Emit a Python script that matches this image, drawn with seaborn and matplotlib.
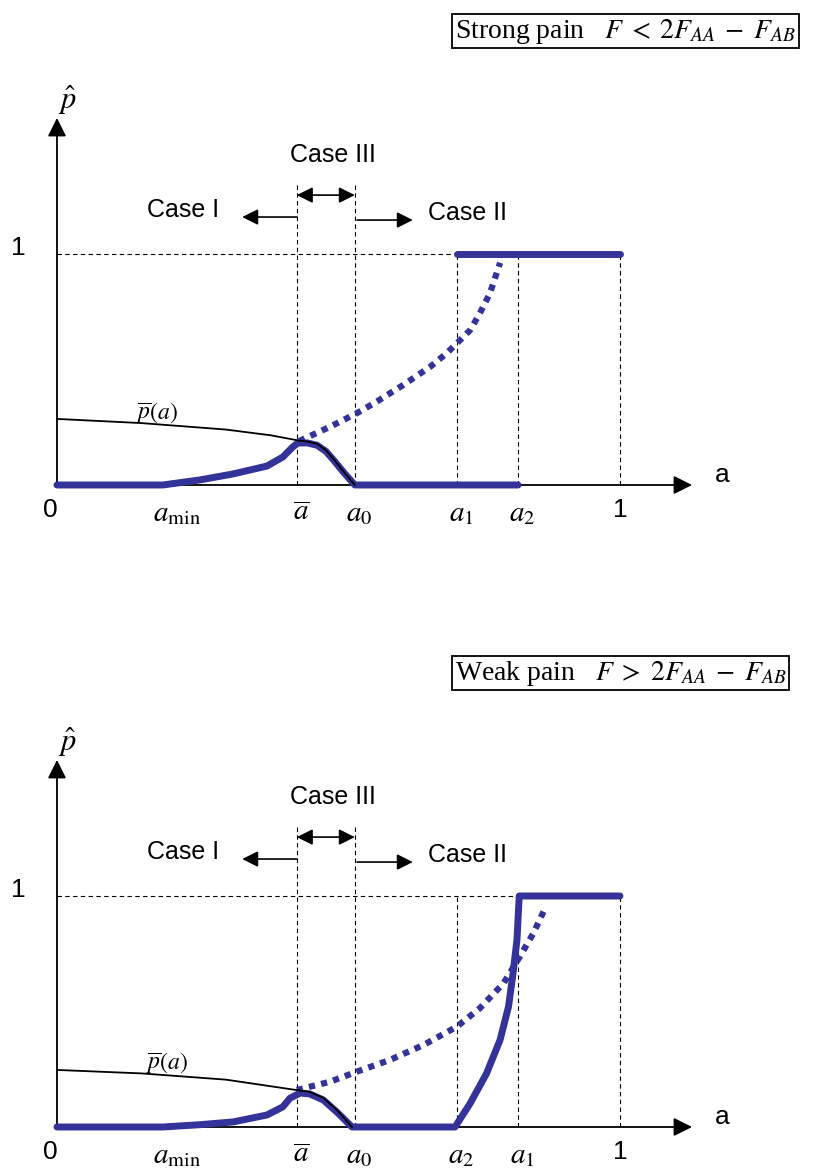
"""
plot.py
Schematic of p-hat against a for the strong pain and weak pain cases.
Writes out.png (829x1174).
"""

import matplotlib.pyplot as plt
import seaborn as sns

# -------------------------------------------------------
# Data (a in [0, 1])
# -------------------------------------------------------
A_MIN = 0.188
A_BAR = 0.426
A_0 = 0.529
A_LO = 0.710   # a1 in strong pain, a2 in weak pain
A_HI = 0.819   # a2 in strong pain, a1 in weak pain

# strong pain: thick equilibrium curve (low branch) and the upper branch
strong_low_x = [0, 0.188, 0.254, 0.313, 0.373, 0.401, 0.419, 0.428, 0.445,
                0.462, 0.478, 0.494, 0.510, 0.529, 0.819]
strong_low_y = [0, 0, 0.022, 0.048, 0.082, 0.121, 0.165, 0.182, 0.182,
                0.172, 0.145, 0.100, 0.052, 0, 0]
strong_high_x = [0.710, 1.0]
strong_high_y = [1.0, 1.0]
strong_pbar_x = [0, 0.150, 0.300, 0.380, 0.428, 0.445, 0.462, 0.478,
                 0.494, 0.510, 0.529]
strong_pbar_y = [0.286, 0.268, 0.240, 0.215, 0.193, 0.188, 0.178, 0.150,
                 0.104, 0.055, 0]
strong_dot_x = [0.430, 0.485, 0.532, 0.568, 0.615, 0.663, 0.692, 0.710,
                0.734, 0.751, 0.769, 0.787]
strong_dot_y = [0.190, 0.252, 0.310, 0.361, 0.433, 0.512, 0.570, 0.613,
                0.671, 0.743, 0.830, 0.962]

# weak pain
weak_low_x = [0, 0.188, 0.254, 0.313, 0.373, 0.401, 0.414, 0.432, 0.449,
              0.473, 0.497, 0.524, 0.707, 0.734, 0.763, 0.787, 0.802,
              0.810, 0.817, 0.821, 1.0]
weak_low_y = [0, 0, 0.010, 0.022, 0.052, 0.087, 0.125, 0.147, 0.143,
              0.117, 0.065, 0, 0, 0.103, 0.232, 0.377, 0.521,
              0.665, 0.810, 1.0, 1.0]
weak_pbar_x = [0, 0.150, 0.300, 0.414, 0.449, 0.473, 0.497, 0.524]
weak_pbar_y = [0.247, 0.232, 0.205, 0.164, 0.152, 0.126, 0.074, 0]
weak_dot_x = [0.426, 0.485, 0.532, 0.591, 0.651, 0.710, 0.751, 0.793,
              0.822, 0.846, 0.867]
weak_dot_y = [0.160, 0.196, 0.239, 0.290, 0.355, 0.434, 0.514, 0.622,
              0.737, 0.838, 0.947]

strong_ticks = [(0, "0"), (A_MIN, r"$a_{\min}$"), (A_BAR, r"$\overline{a}$"),
                (A_0, r"$a_0$"), (A_LO, r"$a_1$"), (A_HI, r"$a_2$"), (1.0, "1")]
weak_ticks = [(0, "0"), (A_MIN, r"$a_{\min}$"), (A_BAR, r"$\overline{a}$"),
              (A_0, r"$a_0$"), (A_LO, r"$a_2$"), (A_HI, r"$a_1$"), (1.0, "1")]

STRONG_TITLE = r"Strong pain   $F \;<\; 2F_{AA} \;-\; F_{AB}$"
WEAK_TITLE = r"Weak pain   $F \;>\; 2F_{AA} \;-\; F_{AB}$"

# -------------------------------------------------------
# Style
# -------------------------------------------------------
sns.set_theme(style="white")
plt.rcParams.update({
    "font.family": ["Liberation Sans", "DejaVu Sans"],
    "mathtext.fontset": "stix",
    "text.color": "black",
    "figure.facecolor": "white",
})

BLUE = "#333399"
SANS = ["Liberation Sans", "DejaVu Sans"]
SERIF = ["Liberation Serif", "DejaVu Serif"]
XLIM = (-0.1012, 1.3712)


def arrow(ax, x0, y0, x1, y1, style="-|>", scale=22, lw=1.2):
    ax.annotate("", xy=(x1, y1), xytext=(x0, y0),
                arrowprops=dict(arrowstyle=style, color="black", lw=lw,
                                mutation_scale=scale, shrinkA=0, shrinkB=0))


def draw_panel(ax, low_x, low_y, high_x, high_y, pbar_x, pbar_y,
               dot_x, dot_y, ticks, title, pbar_pos):
    ax.set_xlim(*XLIM)
    ax.axis("off")

    # guide lines
    dash = dict(color="black", lw=0.8, ls=(0, (4, 3)), zorder=1)
    ax.plot([A_BAR, A_BAR], [0, 1.307], **dash)
    ax.plot([A_0, A_0], [0, 1.307], **dash)
    for xv in [A_LO, A_HI, 1.0]:
        ax.plot([xv, xv], [0, 1.0], **dash)
    one_end = high_x[0] if high_x else A_HI
    ax.plot([0, one_end], [1.0, 1.0], **dash)

    # axes with arrow heads
    arrow(ax, 0, 0, 1.128, 0, scale=28, lw=1.3)
    arrow(ax, 0, 0, 0, 1.589, scale=28, lw=1.3)

    # curves
    sns.lineplot(x=pbar_x, y=pbar_y, ax=ax, color="black", lw=1.3,
                 sort=False, estimator=None, zorder=4)
    sns.lineplot(x=low_x, y=low_y, ax=ax, color=BLUE, lw=5,
                 sort=False, estimator=None, zorder=3)
    if high_x:
        sns.lineplot(x=high_x, y=high_y, ax=ax, color=BLUE, lw=5,
                     sort=False, estimator=None, zorder=3)
    sns.lineplot(x=dot_x, y=dot_y, ax=ax, color=BLUE, lw=4.5,
                 ls=(0, (1, 1)), sort=False, estimator=None, zorder=3)

    # case annotations
    ax.text(0.490, 1.429, "Case III", fontsize=18, family=SANS,
            ha="center", va="center")
    arrow(ax, A_BAR, 1.255, A_0, 1.255, style="<|-|>", scale=24)
    ax.text(0.224, 1.190, "Case I", fontsize=18, family=SANS,
            ha="center", va="center")
    arrow(ax, A_BAR, 1.160, 0.329, 1.160, scale=24)
    ax.text(0.659, 1.177, "Case II", fontsize=18, family=SANS,
            ha="left", va="center")
    arrow(ax, A_0 + 0.004, 1.147, 0.632, 1.147, scale=24)

    # labels
    ax.text(0.018, 1.667, r"$\hat{p}$", fontsize=22, ha="center", va="center")
    ax.text(-0.069, 1.026, "1", fontsize=19, family=SANS,
            ha="center", va="center")
    ax.text(1.181, 0.043, "a", fontsize=19, family=SANS,
            ha="center", va="center")
    ax.text(pbar_pos[0], pbar_pos[1], r"$\overline{p}(a)$", fontsize=17,
            ha="center", va="center")
    for xv, lab in ticks:
        if lab in ("0", "1"):
            ax.text(xv - (0.012 if lab == "0" else 0), -0.110, lab,
                    fontsize=19, family=SANS, ha="center", va="center")
        else:
            off = 0.025 if "min" in lab else 0.008
            ax.text(xv + off, -0.120, lab, fontsize=21,
                    ha="center", va="center")

    ax.text(0.707, 1.965, title, fontsize=20, family=SERIF,
            ha="left", va="center",
            bbox=dict(boxstyle="square,pad=0.1", fc="white",
                      ec="black", lw=1.3))


fig = plt.figure(figsize=(8.29, 11.74), dpi=100)
ax_top = fig.add_axes([0, 0.5, 1, 0.5])
ax_top.set_ylim(-0.4416, 2.0996)
ax_bot = fig.add_axes([0, 0, 1, 0.5])
ax_bot.set_ylim(-0.2035, 2.3377)

draw_panel(ax_top, strong_low_x, strong_low_y, strong_high_x, strong_high_y,
           strong_pbar_x, strong_pbar_y, strong_dot_x, strong_dot_y,
           strong_ticks, STRONG_TITLE, (0.178, 0.312))
draw_panel(ax_bot, weak_low_x, weak_low_y, [], [],
           weak_pbar_x, weak_pbar_y, weak_dot_x, weak_dot_y,
           weak_ticks, WEAK_TITLE, (0.195, 0.277))

fig.savefig("out.png", dpi=100)
plt.close()
